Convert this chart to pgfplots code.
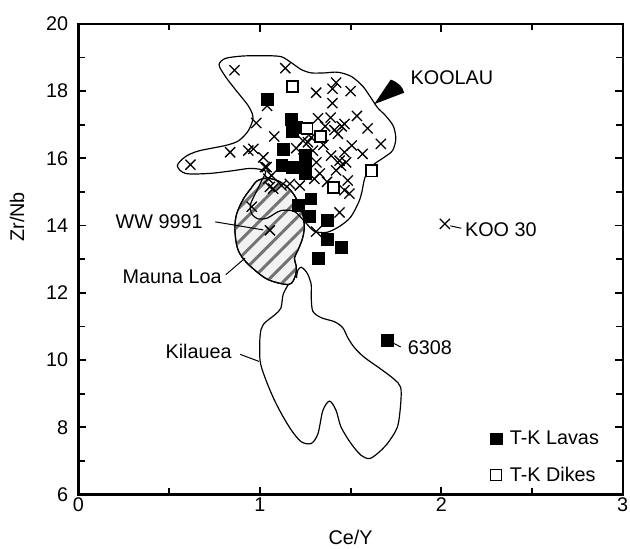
\documentclass[border=0pt]{standalone}
\usepackage{fontspec}
\setmainfont{Liberation Sans}
\usepackage{pgfplots}
\pgfplotsset{compat=1.18}
\usetikzlibrary{patterns.meta}

\newcommand{\lbl}{\fontsize{20}{23}\selectfont}

\begin{document}
\begin{tikzpicture}
\begin{axis}[
  scale only axis,
  width=548bp, height=474bp,
  xmin=0, xmax=3, ymin=6, ymax=20,
  xtick={0,1,2,3}, minor xtick={0.5,1.5,2.5},
  ytick={6,8,...,20}, minor ytick={7,9,...,19},
  tick align=inside,
  major tick length=8bp, minor tick length=6.5bp,
  tick style={black, line width=1.8bp},
  axis line style={line width=2.4bp},
  /pgf/number format/assume math mode=true,
  tick label style={font=\lbl},
  yticklabel style={xshift=-7bp},
  label style={font=\lbl},
  xlabel={Ce/Y}, ylabel={Zr/Nb},
  xlabel style={at={(axis cs:1.5,4.73)}, anchor=center},
  ylabel style={at={(axis description cs:-0.113,0.59)}, anchor=center},
  clip=false,
  legend style={at={(axis cs:2.267,7.95)}, anchor=north west, draw=none,
    fill=none, font=\lbl, inner sep=0pt, nodes={inner sep=2bp},
    column sep=6bp, row sep=17bp},
  legend image code/.code={\draw[#1] plot coordinates {(0bp,0bp)};},
  legend cell align=left,
]

% Mauna Loa field (hatched)
\addplot[forget plot, line width=1.2bp, fill=gray!10, smooth, tension=0.55,
  postaction={pattern={Lines[angle=45,distance=12bp,line width=3bp]},
  pattern color=black!55}]
  coordinates {
  (1.04,15.42) (1.10,15.33) (1.15,15.15) (1.19,14.9) (1.22,14.55)
  (1.24,14.25) (1.245,13.95) (1.235,13.62) (1.21,13.27) (1.19,13.03)
  (1.20,12.8) (1.195,12.5) (1.16,12.25) (1.05,12.38) (0.975,12.66)
  (0.91,13.0) (0.875,13.35) (0.862,13.9) (0.872,14.35) (0.91,14.8)
  (0.95,15.1) (0.985,15.33) (1.04,15.42)
  };
% Kilauea field
\addplot[forget plot, line width=1.2bp, smooth, tension=0.5] coordinates {
  (1.156,12.24) (1.128,11.95) (1.116,11.55) (1.083,11.35) (1.019,11.06)
  (1.001,10.72) (1.001,9.98) (1.028,9.48) (1.073,8.89) (1.119,8.40)
  (1.174,7.91) (1.228,7.57) (1.283,7.52) (1.320,7.81) (1.347,8.50)
  (1.384,8.78) (1.420,8.50) (1.447,8.01) (1.502,7.52) (1.557,7.17)
  (1.603,7.07) (1.648,7.22) (1.703,7.52) (1.758,8.01) (1.776,8.70)
  (1.776,9.19) (1.740,9.43) (1.667,9.73) (1.576,10.08) (1.521,10.37)
  (1.484,10.67) (1.457,10.96) (1.411,11.14) (1.338,11.26) (1.292,11.45)
  (1.283,11.85) (1.283,12.24) (1.265,12.54) (1.247,12.68) (1.228,12.76)
  (1.210,12.68) (1.201,12.44)
  };
% Koolau field
\addplot[forget plot, line width=1.2bp, smooth, tension=0.5] coordinates {
  (1.046,19.05) (1.119,19.02) (1.174,18.84) (1.228,18.64) (1.283,18.54)
  (1.357,18.54) (1.429,18.56) (1.502,18.44) (1.566,18.15) (1.612,17.80)
  (1.648,17.51) (1.694,17.26) (1.736,16.95) (1.749,16.57) (1.731,16.23)
  (1.685,16.03) (1.630,15.83) (1.594,15.62) (1.575,15.35) (1.562,15.0)
  (1.545,14.7) (1.50,14.25) (1.44,13.98) (1.37,13.80) (1.30,13.83)
  (1.25,14.1) (1.19,14.42) (1.12,14.45) (1.08,14.35) (1.04,14.22)
  (0.99,14.2) (0.955,14.35) (0.948,14.62) (0.975,14.95) (1.01,15.34)
  (1.03,15.62) (0.95,15.70) (0.85,15.63) (0.72,15.55) (0.59,15.55)
  (0.545,15.78) (0.59,16.05) (0.663,16.22) (0.809,16.38) (0.882,16.52)
  (0.936,16.82) (0.962,17.21) (0.936,17.56) (0.864,18.05) (0.809,18.44)
  (0.775,18.78) (0.81,18.97) (0.90,19.04) (0.98,19.05) (1.046,19.05)
  };

% Koolau samples
\addplot[forget plot, only marks, mark=x, mark size=7.2bp, line width=1.3bp]
  coordinates {
  (0.86,18.62) (1.14,18.68) (1.42,18.25) (1.40,18.07) (1.31,17.95)
  (1.50,18.00) (1.40,17.64) (1.04,17.56) (0.98,17.05) (1.39,17.21)
  (1.32,17.19) (1.535,17.26) (1.466,17.02) (1.451,16.95) (1.594,16.89)
  (1.079,16.65) (1.283,16.62) (1.506,16.38) (1.667,16.43) (0.836,16.18)
  (0.936,16.23) (0.964,16.28) (1.019,16.03) (1.466,16.18) (1.566,16.13)
  (1.393,16.08) (0.617,15.81) (1.037,15.74) (1.447,15.78) (1.42,15.64)
  (1.311,15.88) (1.484,15.34) (1.493,14.95) (1.064,15.49) (1.073,15.10)
  (1.165,15.24) (1.22,15.19) (1.30,15.39) (0.955,14.56) (1.439,14.39)
  (1.055,13.86) (1.411,16.84) (1.43,16.73) (1.292,16.23) (1.265,16.48)
  (1.238,16.52) (1.439,15.93) (1.475,15.88) (1.119,15.19) (1.046,15.39)
  (1.055,15.15) (1.028,15.74) (1.466,15.05) (1.31,13.82) (2.02,14.05)
  (1.35,16.40) (1.36,16.95) (1.25,15.80) (1.33,15.55) (1.37,15.30)
  (1.24,16.0) (1.20,16.30)
  };
% T-K lavas
\addplot[only marks, mark=square*, mark size=6bp, black] coordinates {
  (1.04,17.77) (1.17,17.16) (1.20,16.92) (1.18,16.80) (1.13,16.26)
  (1.25,16.10) (1.12,15.80) (1.18,15.74) (1.25,15.72) (1.25,15.55)
  (1.21,14.61) (1.28,14.80) (1.27,14.27) (1.37,14.15) (1.37,13.60)
  (1.45,13.36) (1.32,13.03) (1.70,10.59)
  };
\addlegendentry{T-K Lavas}
% T-K dikes
\addplot[only marks, mark=square*, mark size=5.6bp, draw=black,
  fill=white, line width=1.5bp] coordinates {
  (1.18,18.13) (1.26,16.89) (1.335,16.65) (1.615,15.63) (1.406,15.13)
  };
\addlegendentry{T-K Dikes}

% labels and leaders
\fill (axis cs:1.63,17.61) -- (axis cs:1.721,18.34)
  .. controls (axis cs:1.765,18.26) and (axis cs:1.79,18.10) .. (axis cs:1.795,17.95) -- cycle;
\node[anchor=west, font=\lbl, inner sep=0pt] at (axis cs:1.83,18.39) {KOOLAU};

\draw[line width=1bp] (axis cs:0.754,14.11) -- (axis cs:1.019,13.87);
\node[anchor=east, font=\lbl, inner sep=0pt] at (axis cs:0.685,14.11) {WW 9991};

\draw[line width=1bp] (axis cs:0.812,12.54) -- (axis cs:0.918,13.03);
\node[anchor=east, font=\lbl, inner sep=0pt] at (axis cs:0.79,12.47) {Mauna Loa};

\draw[line width=1bp] (axis cs:0.891,10.17) -- (axis cs:0.995,9.96);
\node[anchor=east, font=\lbl, inner sep=0pt] at (axis cs:0.845,10.25) {Kilauea};

\draw[line width=1bp] (axis cs:1.74,10.49) -- (axis cs:1.776,10.39);
\node[anchor=west, font=\lbl, inner sep=0pt] at (axis cs:1.815,10.37) {6308};

\draw[line width=1bp] (axis cs:2.05,13.99) -- (axis cs:2.11,13.92);
\node[anchor=west, font=\lbl, inner sep=0pt] at (axis cs:2.13,13.88) {KOO 30};

\coordinate (bbll) at (axis cs:-0.4326,4.405);
\coordinate (bbur) at (axis cs:3.04,20.708);
\end{axis}
\pgfresetboundingbox
\useasboundingbox (bbll) rectangle (bbur);
\end{tikzpicture}
\end{document}
